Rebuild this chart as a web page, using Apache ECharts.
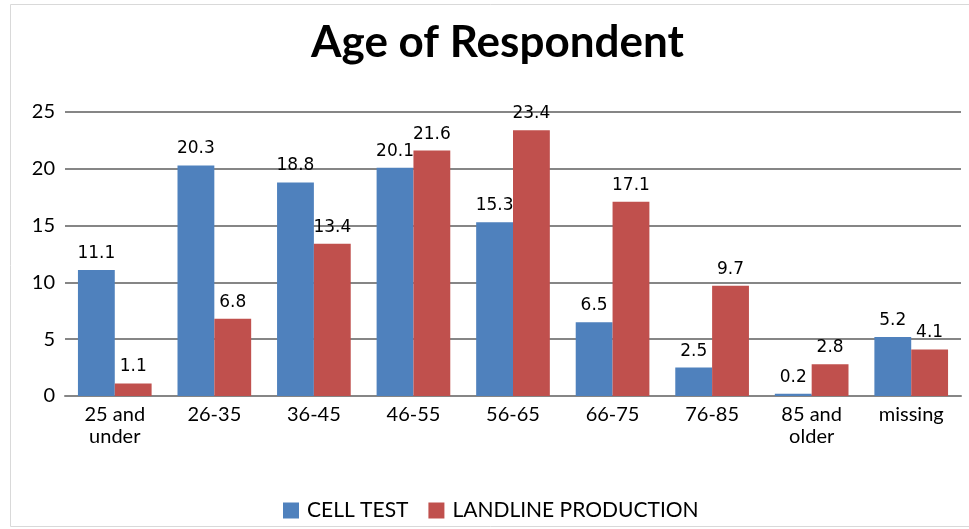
<!DOCTYPE html>
<html>
<head>
	<meta charset="utf-8">
	<title>Age of Respondent</title>
	<script src="https://cdn.jsdelivr.net/npm/echarts@6/dist/echarts.min.js"></script>
	<style type="text/css">
		*{margin:0;padding:0;}
		body{background:#fff;}
		#main{width:969px;height:529px;}
	</style>
</head>
<body>
	<div id="main"></div>
	<script type="text/javascript">
		// data
		var categories = ['25 and\nunder', '26-35', '36-45', '46-55', '56-65', '66-75', '76-85', '85 and\nolder', 'missing'];
		var cellTest = [11.1, 20.3, 18.8, 20.1, 15.3, 6.5, 2.5, 0.2, 5.2];
		var landline = [1.1, 6.8, 13.4, 21.6, 23.4, 17.1, 9.7, 2.8, 4.1];
		var seriesNames = ['CELL TEST', 'LANDLINE PRODUCTION'];

		var myChart = echarts.init(document.getElementById('main'));

		var labelStyle = {
			show: true,
			position: 'top',
			distance: 8,
			fontFamily: 'DejaVu Sans',
			fontSize: 17,
			color: '#000'
		};

		var option = {
			animation: false,
			color: ['#4F81BD', '#C0504D'],
			title: {
				text: 'Age of Respondent',
				left: 306,
				top: 16,
				textStyle: {
					fontFamily: 'Lato',
					fontWeight: 'bold',
					fontSize: 44,
					color: '#000'
				}
			},
			graphic: [{
				type: 'rect',
				shape: {x: 10.5, y: 4.5, width: 960, height: 522},
				style: {fill: 'none', stroke: '#d9d9d9', lineWidth: 1},
				silent: true
			}],
			legend: {
				bottom: 8,
				left: 283,
				padding: 0,
				itemWidth: 16,
				itemHeight: 16,
				itemGap: 20,
				icon: 'rect',
				textStyle: {fontFamily: 'Lato', fontSize: 21, color: '#000', padding: [0, 0, 0, 3]},
				data: seriesNames
			},
			grid: {
				left: 65,
				right: 8,
				top: 112,
				bottom: 133
			},
			xAxis: {
				type: 'category',
				data: categories,
				axisTick: {show: false},
				axisLine: {lineStyle: {color: '#868686', width: 2}},
				axisLabel: {
					interval: 0,
					fontFamily: 'Lato',
					fontSize: 20,
					color: '#000',
					lineHeight: 22,
					margin: 8
				}
			},
			yAxis: {
				type: 'value',
				min: 0,
				max: 25,
				interval: 5,
				axisLine: {show: false},
				axisTick: {show: false},
				axisLabel: {fontFamily: 'Lato', fontSize: 20, color: '#000', margin: 10},
				splitLine: {lineStyle: {color: '#868686', width: 2}}
			},
			series: [{
				name: seriesNames[0],
				type: 'bar',
				data: cellTest,
				barGap: '0%',
				barCategoryGap: '26%',
				label: labelStyle
			}, {
				name: seriesNames[1],
				type: 'bar',
				data: landline,
				label: labelStyle
			}]
		};

		myChart.setOption(option);
	</script>
</body>
</html>
